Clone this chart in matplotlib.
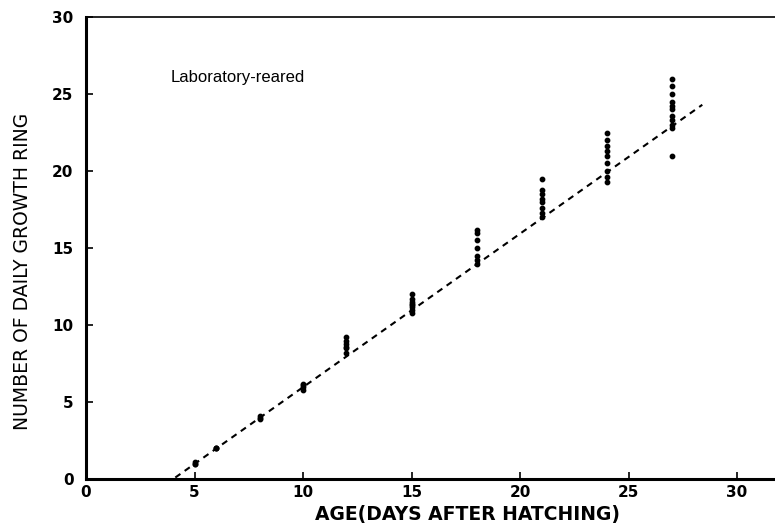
import numpy as np
import matplotlib
matplotlib.use("Agg")
import matplotlib.pyplot as plt

# age (days after hatching) and ring counts
ages = [5, 5, 5, 6, 6, 6, 8, 8, 8,
        10, 10, 10, 10,
        12, 12, 12, 12, 12, 12,
        15, 15, 15, 15, 15, 15, 15, 15,
        18, 18, 18, 18, 18, 18, 18,
        21, 21, 21, 21, 21, 21, 21, 21,
        24, 24, 24, 24, 24, 24, 24, 24, 24,
        27, 27, 27, 27, 27, 27, 27, 27, 27, 27, 27]
rings = [1.0, 1.0, 1.1, 2.0, 2.0, 2.0, 4.0, 4.1, 3.9,
         5.8, 6.0, 6.2, 6.1,
         8.2, 8.5, 8.8, 9.0, 9.2, 8.6,
         10.8, 11.0, 11.2, 11.3, 11.5, 11.7, 12.0, 11.4,
         14.0, 14.2, 14.5, 15.0, 15.5, 16.0, 16.2,
         17.0, 17.3, 17.6, 18.0, 18.2, 18.5, 18.8, 19.5,
         19.3, 19.6, 20.0, 20.5, 21.0, 21.3, 21.6, 22.0, 22.5,
         21.0, 22.8, 23.0, 23.3, 23.6, 24.0, 24.2, 24.5, 25.0, 25.5, 26.0]

# regression line ends
fit_x = [1.5, 4.0, 28.4]
fit_y = [0.0, 0.0, 24.3]

x_ticks = [0, 5, 10, 15, 20, 25, 30]
y_ticks = [0, 5, 10, 15, 20, 25, 30]

fig = plt.figure(figsize=(7.75, 5.29), dpi=100)
ax = fig.add_axes([0.111, 0.094, 0.889, 0.874])

ax.plot(fit_x, fit_y, color="black", linestyle=(0, (3, 2.5)), linewidth=1.5)
ax.scatter(ages, rings, s=10, color="black", marker="o", zorder=3)

ax.set_xlim(0, 31.75)
ax.set_ylim(0, 30)
ax.set_xticks(x_ticks)
ax.set_yticks(y_ticks)
ax.tick_params(direction="in", length=5, width=1.2, labelsize=11)
ax.tick_params(axis="x", pad=4)
ax.tick_params(axis="y", pad=9)
for lab in ax.get_xticklabels() + ax.get_yticklabels():
    lab.set_fontweight("bold")

ax.spines["left"].set_linewidth(2.2)
ax.spines["bottom"].set_linewidth(2.2)
ax.spines["top"].set_linewidth(1.2)
ax.spines["right"].set_visible(False)

ax.set_xlabel("AGE(DAYS AFTER HATCHING)", fontsize=13.5, fontweight="bold")
ax.xaxis.set_label_coords(0.553, -0.056)
ax.set_ylabel("NUMBER OF DAILY GROWTH RING", fontsize=13.5)
ax.yaxis.set_label_coords(-0.078, 0.45)

ax.text(3.9, 25.8, "Laboratory-reared", fontsize=12, family="Liberation Sans")

fig.savefig("out.png", dpi=100)
